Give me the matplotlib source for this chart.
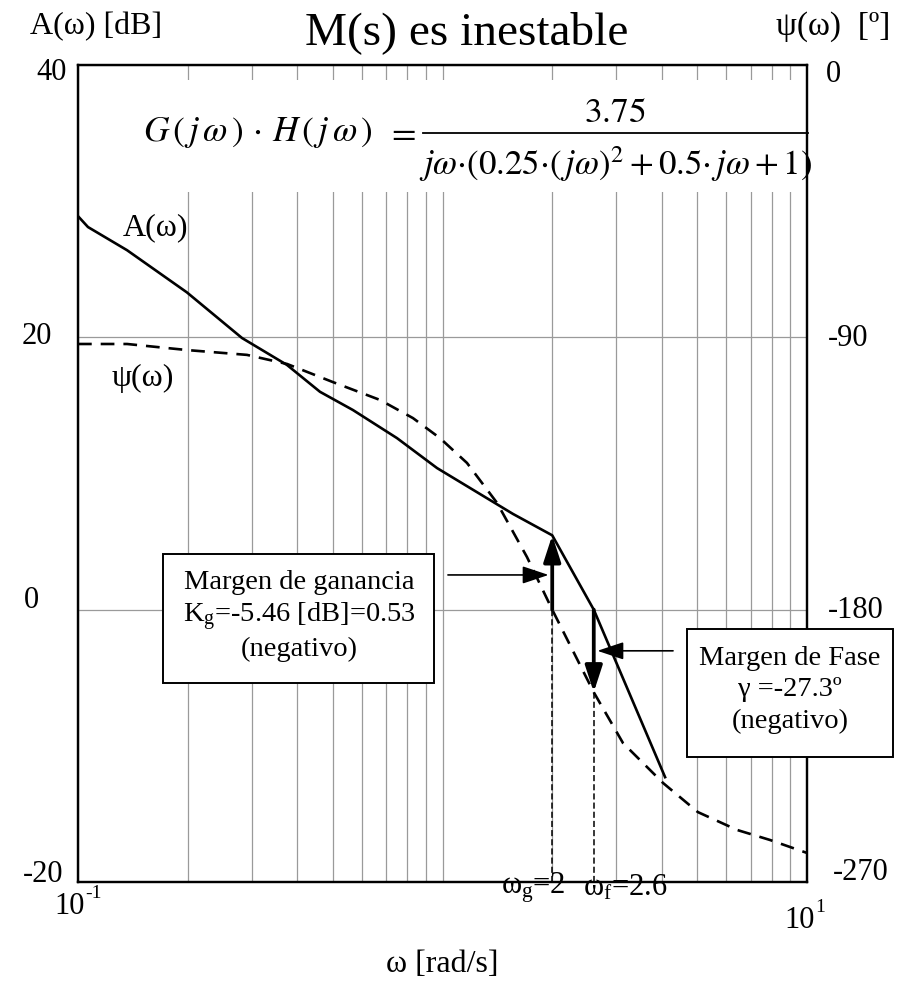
import matplotlib
matplotlib.use("Agg")
import matplotlib.pyplot as plt
from matplotlib.patches import Rectangle
from matplotlib.lines import Line2D

plt.rcParams['font.family'] = ['Liberation Serif', 'DejaVu Serif']
plt.rcParams['mathtext.fontset'] = 'custom'
plt.rcParams['mathtext.rm'] = 'Liberation Serif'
plt.rcParams['mathtext.it'] = 'Liberation Serif:italic'
plt.rcParams['mathtext.bf'] = 'Liberation Serif:bold'

# Magnitude A(w) [dB]
w_mag = [0.1, 0.1065, 0.1363, 0.199, 0.2818, 0.3745, 0.4612, 0.568,
         0.750, 0.966, 1.561, 2.0, 2.6, 4.08]
a_mag = [28.9, 28.1, 26.4, 23.3, 19.95, 17.97, 16.0, 14.66,
         12.6, 10.4, 7.03, 5.46, 0.0, -12.3]

# Phase psi(w) [deg]
w_ph = [0.1, 0.1363, 0.199, 0.2908, 0.3745, 0.5006, 0.674, 0.830, 0.984,
        1.167, 1.411, 1.705, 2.0, 2.6, 3.128, 4.03, 5.02, 6.43, 7.91, 10.0]
psi = [-92.2, -92.2, -94.2, -95.8, -98.8, -104.8, -110.7, -116.7, -123.3,
       -131.5, -144.7, -162.6, -180.0, -207.3, -224.1, -237.3, -246.9,
       -252.8, -256.1, -260.4]

# Stability margins
w_g, kg_db = 2.0, 5.46        # phase crossover, |A| there
w_f, gamma = 2.6, -27.3       # gain crossover, phase margin

db_ticks = [40, 20, 0, -20]
db_labels = ['40', '20', '0', '-20']
deg_ticks = [0, -90, -180, -270]
deg_labels = ['0', '-90', '-180', '-270']

W, H = 902, 991
fig = plt.figure(figsize=(W / 100, H / 100), dpi=100)


def fx(x):
    return x / W


def fy(y):
    return 1 - y / H


ax = fig.add_axes([fx(78), fy(882), (807 - 78) / W, (882 - 65) / H])
ax.set_xscale('log')
ax.set_xlim(0.1, 10)
ax.set_ylim(-20, 40)
ax.set_yticks(db_ticks)
ax.grid(True, which='both', axis='x', color='#9a9a9a', lw=0.9)
ax.grid(True, which='major', axis='y', color='#9a9a9a', lw=0.9)
ax.tick_params(which='both', length=0, labelleft=False, labelbottom=False)
for s in ax.spines.values():
    s.set_linewidth(1.6)

ax2 = ax.twinx()
ax2.set_ylim(-270, 0)
ax2.tick_params(which='both', length=0, labelright=False)
for s in ax2.spines.values():
    s.set_linewidth(1.6)

# white panel behind the transfer function
ax.add_patch(Rectangle((fx(100), fy(192)), (804 - 100) / W, (192 - 80) / H,
                       transform=fig.transFigure, fc='white', ec='none',
                       zorder=1.6))

# curves
ax.plot(w_mag, a_mag, color='black', lw=1.9, zorder=3)
ax2.plot(w_ph, psi, color='black', lw=1.9, ls=(0, (5.2, 3.4)), zorder=3)

# guide lines down to the frequency axis
ax.plot([w_g, w_g], [-20, 0], color='black', lw=1.1, ls=(0, (4, 2)), zorder=3)
ax2.plot([w_f, w_f], [-270, -180 + gamma], color='black', lw=1.1,
         ls=(0, (4, 2)), zorder=3)

# margin arrows
thick = dict(arrowstyle='-|>,head_length=0.8,head_width=0.26', lw=2.7,
             color='black', mutation_scale=20, shrinkA=0, shrinkB=0)
ax.annotate('', xy=(w_g, kg_db), xytext=(w_g, 0), arrowprops=thick, zorder=4)
ax2.annotate('', xy=(w_f, -180 + gamma), xytext=(w_f, -180),
             arrowprops=thick, zorder=4)

thin = dict(arrowstyle='-|>,head_length=0.9,head_width=0.3', lw=1.2,
            color='black', mutation_scale=18, shrinkA=0, shrinkB=0)
ax.annotate('', xy=(1.955, 2.55), xytext=(1.035, 2.55), arrowprops=thin,
            zorder=4)
ax2.annotate('', xy=(2.66, -193.6), xytext=(4.29, -193.6), arrowprops=thin,
             zorder=4)

# annotation boxes
ax.add_patch(Rectangle((fx(163), fy(683)), (434 - 163) / W, (683 - 554) / H,
                       transform=fig.transFigure, fc='white', ec='black',
                       lw=1.4, zorder=1.7, clip_on=False))
fig.text(fx(299), fy(616), 'Margen de ganancia\nK$_{\\rm g}$=-5.46 [dB]=0.53\n(negativo)',
         ha='center', va='center', fontsize=20.5, linespacing=1.2)
fig.patches.append(Rectangle((fx(687), fy(757)), (893 - 687) / W, (757 - 629) / H,
                             transform=fig.transFigure, fc='white',
                             ec='black', lw=1.4, zorder=1))
fig.text(fx(790), fy(690), 'Margen de Fase\nγ =-27.3º\n(negativo)',
         ha='center', va='center', fontsize=20.5, linespacing=1.32)

# transfer function G(jw)H(jw)
fs_f = 25.5
fig.text(fx(143), fy(132),
         r'$G\,(\,j\,\omega\,)\,\cdot\,H\,(\,j\,\omega\,)$',
         ha='left', va='center', fontsize=fs_f, math_fontfamily='stix')
fig.text(fx(401), fy(133), r'$=$', ha='center', va='center', fontsize=fs_f,
         math_fontfamily='stix')
fig.text(fx(615), fy(114), r'$3.75$', ha='center', va='center',
         fontsize=fs_f, math_fontfamily='stix')
fig.text(fx(616), fy(164),
         r'$j\omega{\cdot}(0.25{\cdot}(\,j\omega)^{2}+0.5{\cdot}\,j\omega+1)$',
         ha='center', va='center', fontsize=25, math_fontfamily='stix')
fig.add_artist(Line2D([fx(423), fx(808)], [fy(133), fy(133)],
                      transform=fig.transFigure, color='black', lw=1.3))

# curve labels
fig.text(fx(123), fy(228), 'A(ω)', ha='left', va='center', fontsize=23)
fig.text(fx(112), fy(378), 'ψ(ω)', ha='left', va='center', fontsize=23)

# axis titles
fig.text(fx(467), fy(33), 'M(s) es inestable', ha='center', va='center',
         fontsize=34)
fig.text(fx(30), fy(27), 'A(ω) [dB]', ha='left', va='center', fontsize=23)
fig.text(fx(890), fy(27), 'ψ(ω)  [º]', ha='right', va='center', fontsize=24)
fig.text(fx(442), fy(965), 'ω [rad/s]', ha='center', va='center', fontsize=23)

# left tick labels
for lab, xl, yl in zip(db_labels, [36, 22, 24, 23], [73, 337, 600, 874]):
    fig.text(fx(xl), fy(yl), lab, ha='left', va='center', fontsize=22)
# right tick labels
for lab, xl, yl in zip(deg_labels, [826, 828, 828, 833], [75, 338, 610, 873]):
    fig.text(fx(xl), fy(yl), lab, ha='left', va='center', fontsize=22)

# frequency decade labels
fig.text(fx(85), fy(907), '10', ha='right', va='center', fontsize=22)
fig.text(fx(85), fy(894), '-1', ha='left', va='center', fontsize=14)
fig.text(fx(815), fy(921), '10', ha='right', va='center', fontsize=22)
fig.text(fx(815), fy(908), '1', ha='left', va='center', fontsize=14)
fig.text(fx(566), fy(888), 'ω$_{\\rm g}$=2', ha='right', va='center', fontsize=22)
fig.text(fx(583), fy(888), 'ω$_{\\rm f}$=2.6', ha='left', va='center', fontsize=22)

fig.savefig('out.png', dpi=100)
